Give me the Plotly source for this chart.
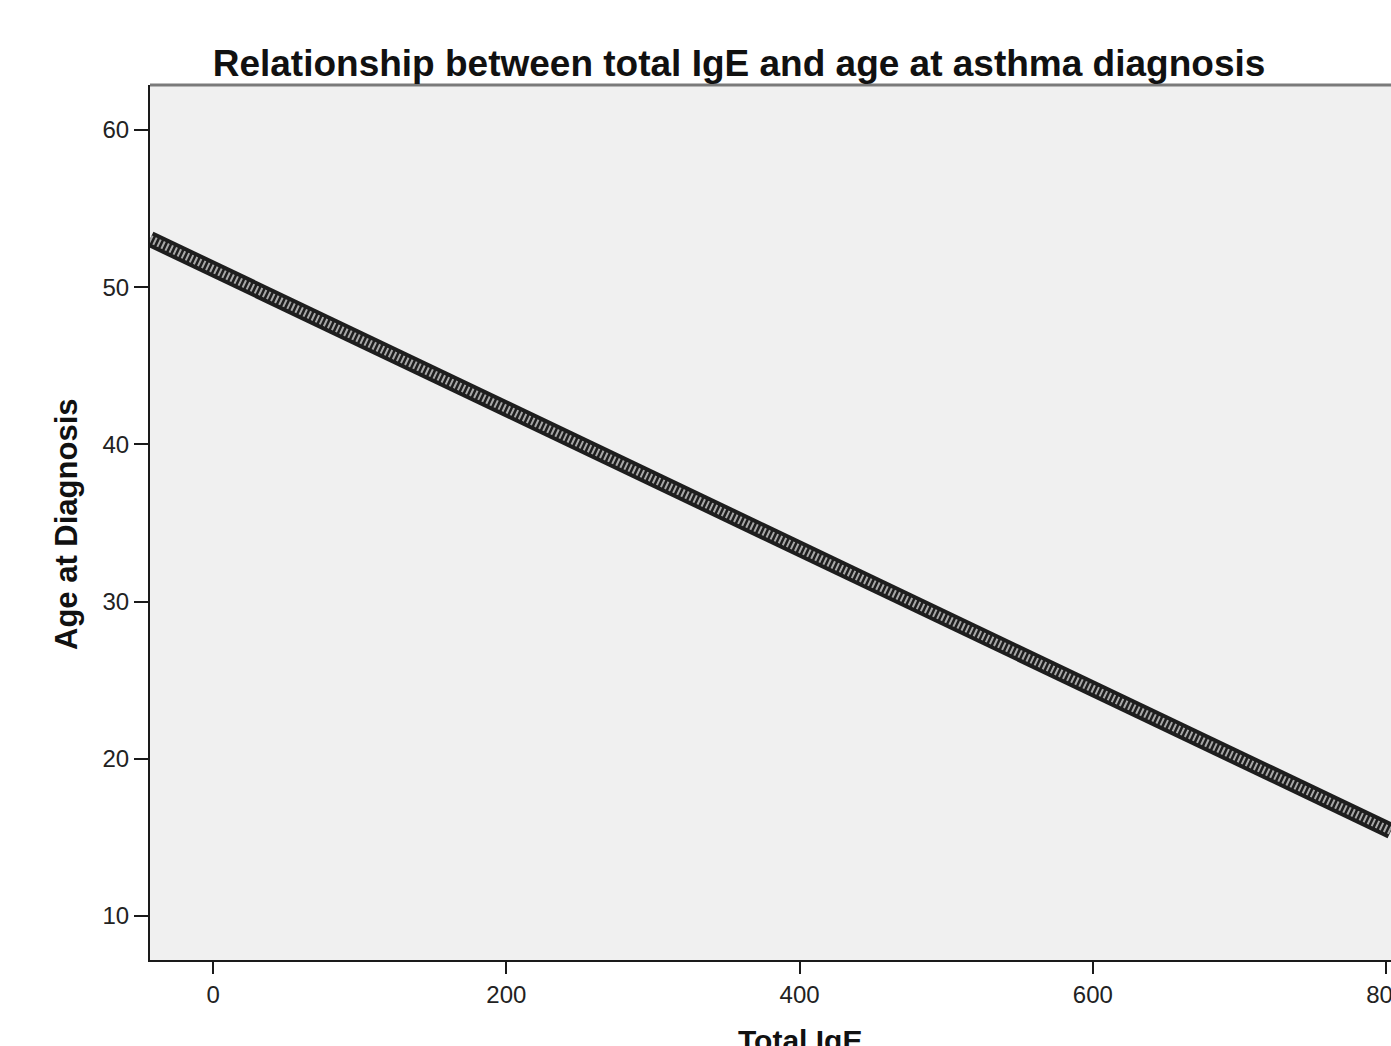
import plotly.graph_objects as go

# Fitted relationship (endpoints)
total_ige = [-43.0, 803.3]
age_at_diagnosis = [53.07, 15.41]

x_tick_vals = [0, 200, 400, 600, 800]
x_tick_text = ["0", "200", "400", "600", "800"]
y_tick_vals = [10, 20, 30, 40, 50, 60]
y_tick_text = ["10", "20", "30", "40", "50", "60"]

FONT = "Liberation Sans, Arial, sans-serif"
W, H = 1391, 1046

fig = go.Figure()
# outer dark band of the chained circles
fig.add_trace(go.Scatter(x=total_ige, y=age_at_diagnosis, mode="lines",
                         line=dict(color="#1e1e1e", width=16), hoverinfo="skip"))
# light holes of the circles
fig.add_trace(go.Scatter(x=total_ige, y=age_at_diagnosis, mode="lines",
                         line=dict(color="#a8a8a8", width=8, dash="2px,2.5px"), hoverinfo="skip"))

fig.update_layout(
    width=W, height=H, autosize=False,
    margin=dict(l=150, r=0, t=85, b=86, pad=0, autoexpand=False),
    paper_bgcolor="white",
    plot_bgcolor="#f0f0f0",
    showlegend=False,
    font=dict(family=FONT, color="#1a1a1a"),
    title=dict(text="<b>Relationship between total IgE and age at asthma diagnosis</b>",
               font=dict(family=FONT, size=37, color="#111111"),
               xref="container", yref="container",
               x=739 / W, y=1 - 63 / H, xanchor="center", yanchor="middle"),
    xaxis=dict(range=[-43.0, 803.3], tickvals=x_tick_vals, ticktext=x_tick_text,
               showgrid=False, zeroline=False, showline=True, linecolor="#1a1a1a", linewidth=2,
               ticks="outside", ticklen=12, tickwidth=2, tickcolor="#1a1a1a",
               ticklabeloverflow="allow", automargin=False,
               tickfont=dict(family=FONT, size=24, color="#222222")),
    yaxis=dict(range=[7.2, 62.86], tickvals=y_tick_vals, ticktext=y_tick_text,
               showgrid=False, zeroline=False, showline=True, linecolor="#1a1a1a", linewidth=2,
               ticks="outside", ticklen=14, tickwidth=2, tickcolor="#1a1a1a",
               automargin=False,
               tickfont=dict(family=FONT, size=24, color="#222222")),
    shapes=[dict(type="line", xref="paper", yref="paper", x0=0, x1=1, y0=1, y1=1,
                 line=dict(color="#7a7a7a", width=3))],
    annotations=[
        dict(text="<b>Age at Diagnosis</b>", xref="paper", yref="paper",
             x=(66 - 150) / 1241, y=(960 - 524) / 875, textangle=-90,
             xanchor="center", yanchor="middle", showarrow=False,
             font=dict(family=FONT, size=31, color="#111111")),
        dict(text="<b>Total IgE</b>", xref="paper", yref="paper",
             x=(800 - 150) / 1241, y=(960 - 1040) / 875,
             xanchor="center", yanchor="middle", showarrow=False,
             font=dict(family=FONT, size=30, color="#111111")),
    ],
)

fig.write_html("out.html", config={"displayModeBar": False},
               post_script="document.body.style.margin='0';document.body.style.overflow='hidden';")
